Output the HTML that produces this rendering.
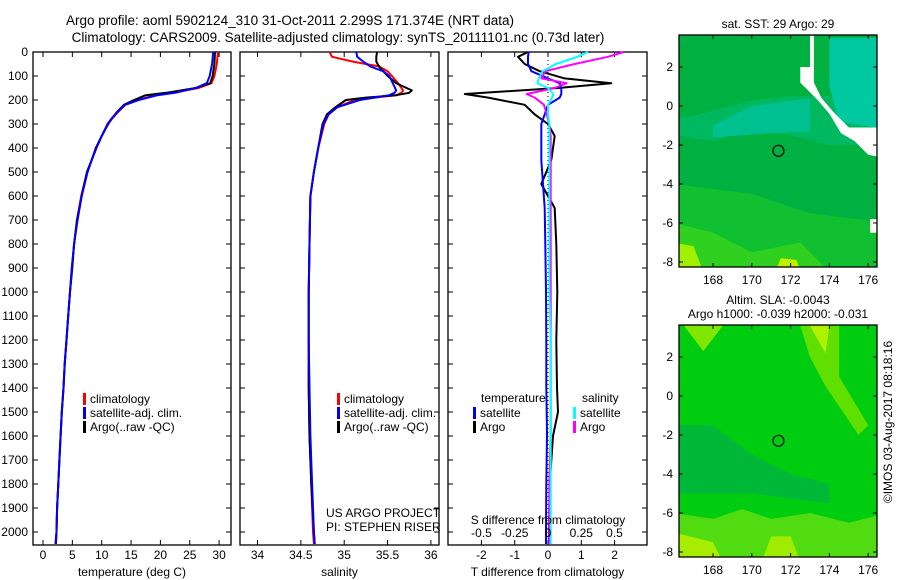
<!DOCTYPE html>
<html><head><meta charset="utf-8">
<style>
body{margin:0;background:#fff;width:900px;height:580px;overflow:hidden}
svg{display:block;font-family:"Liberation Sans",sans-serif;font-size:12px}
</style></head><body>
<svg id="fig" width="900" height="580" viewBox="0 0 900 580" xmlns="http://www.w3.org/2000/svg">
<text x="290" y="25" text-anchor="middle" font-size="13.5">Argo profile: aoml 5902124_310 31-Oct-2011 2.299S 171.374E (NRT data)</text>
<text x="338" y="42" text-anchor="middle" font-size="13.5">Climatology: CARS2009. Satellite-adjusted climatology: synTS_20111101.nc (0.73d later)</text>
<g id="maps"></g>
<g id="plots"></g>
<text transform="translate(892,422) rotate(-90)" text-anchor="middle" font-size="12">©IMOS 03-Aug-2017 08:18:16</text>
</svg>
<script>
// ---------- DATA ----------
const tDepth   = [0,50,100,130,150,170,180,200,220,250,280,300,350,400,450,500,600,700,800,900,1000,1100,1200,1300,1400,1500,1600,1700,1800,1900,2000,2050];
const tArgo    = [29.3,29.2,28.9,28.5,26,21,17.5,15.5,13.8,12.6,11.6,11,10,9,8.3,7.5,6.6,5.8,5.3,5,4.6,4.3,4,3.7,3.5,3.2,3,2.8,2.6,2.4,2.3,2.2];
const tClim    = [29.8,29.6,29.2,28.7,26.5,22,19,16.2,14,12.8,11.7,11.1,10,9.1,8.3,7.5,6.5,5.8,5.3,4.9,4.6,4.3,4,3.7,3.5,3.2,3,2.8,2.6,2.4,2.3,2.1];
const tSat     = [29.0,28.8,28.4,27.9,26,22.5,19.5,16.3,14,12.7,11.6,11.1,10,9.1,8.3,7.6,6.6,5.9,5.3,4.9,4.6,4.3,4,3.7,3.5,3.2,3,2.8,2.6,2.4,2.3,2.2];
const sDepth   = [0,20,40,60,80,100,130,160,170,180,190,200,230,260,300,400,500,600,800,1000,1200,1400,1600,1800,2000,2050];
const sArgo    = [35.38,35.37,35.37,35.4,35.45,35.5,35.6,35.78,35.75,35.6,35.25,35.02,34.9,34.8,34.75,34.7,34.65,34.61,34.6,34.59,34.59,34.59,34.6,34.62,34.65,34.66];
const sClim    = [34.83,34.86,35.1,35.4,35.5,35.55,35.62,35.68,35.66,35.6,35.35,35.12,34.92,34.82,34.77,34.7,34.65,34.61,34.6,34.59,34.59,34.59,34.6,34.62,34.64,34.65];
const sSat     = [35.14,35.15,35.22,35.3,35.45,35.52,35.56,35.6,35.58,35.52,35.35,35.18,34.92,34.82,34.76,34.7,34.65,34.61,34.6,34.59,34.59,34.6,34.61,34.63,34.65,34.66];
const dDepth   = [0,20,50,80,110,130,150,175,190,220,260,300,350,450,550,650,800,1000,1200,1400,1500,1600,1800,2000,2050];
const dTArgo   = [-0.6,-0.9,-0.7,-0.25,0.5,1.9,0.3,-2.5,-1.8,-0.7,-0.4,0,0.2,0.1,-0.2,0.2,0.25,0.28,0.25,0.27,0.3,0.15,0.05,0.03,0.02];
const dTSat    = [-0.58,-0.6,-0.6,-0.5,0,0.35,0.4,0.4,0.35,0,-0.1,-0.2,-0.2,-0.2,-0.15,-0.1,-0.08,-0.06,-0.05,-0.05,-0.04,-0.03,-0.05,-0.06,-0.06];
const dSSat    = [0.3,0.22,0.06,-0.04,-0.07,-0.08,0,0.04,0.03,0,0,0.01,0.01,0.01,0.01,0.01,0.01,0.01,0.02,0.02,0.02,0.02,0.02,0.02,0.02];
const dSArgo   = [0.57,0.45,0.2,-0.02,-0.05,0.14,0.05,-0.16,-0.1,-0.03,-0.01,0.01,0.02,0.02,0.02,0.02,0.02,0.02,0.02,0.02,0.02,0.02,0.01,0.01,0.01];
const depthTicks = [0,100,200,300,400,500,600,700,800,900,1000,1100,1200,1300,1400,1500,1600,1700,1800,1900,2000];
const tempTicks = [0,5,10,15,20,25,30];
const salTicks = [34,34.5,35,35.5,36];
const tdTicks = [-2,-1,0,1,2];
const sdTicks = [-0.5,-0.25,0,0.25,0.5];
const sdTickLabels = ["-0.5","-0.25","0","0.25","0.5"];
const lonTicks = [168,170,172,174,176];
const latTicks = [2,0,-2,-4,-6,-8];
const argoPos = [171.374,-2.299];

// ---------- HELPERS ----------
const NS="http://www.w3.org/2000/svg";
function mk(tag,attrs,parent){const e=document.createElementNS(NS,tag);for(const k in attrs)e.setAttribute(k,attrs[k]);parent.appendChild(e);return e;}
const plots=document.getElementById('plots');
const top0=52,bot0=545;
const yD=d=>top0+d*0.24;

function panel(name,x0,x1,xs,ticks,labels,xlabel,showY){
  const g=mk('g',{},plots);
  
  
  const fr=mk('rect',{x:x0,y:top0,width:x1-x0,height:bot0-top0,fill:'none',stroke:'#000','stroke-width':1.3},g);
  
  
  depthTicks.forEach(d=>{
    const y=yD(d);
    mk('line',{x1:x0,x2:x0+5,y1:y,y2:y,stroke:'#000'},g);
    mk('line',{x1:x1-5,x2:x1,y1:y,y2:y,stroke:'#000'},g);
    if(showY){const t=mk('text',{x:x0-5,y:y+4,'text-anchor':'end'},g);t.textContent=d;
      
      }
  });
  ticks.forEach((v,i)=>{
    const x=xs(v);
    mk('line',{x1:x,x2:x,y1:bot0,y2:bot0-5,stroke:'#000'},g);
    mk('line',{x1:x,x2:x,y1:top0,y2:top0+5,stroke:'#000'},g);
    const t=mk('text',{x:x,y:bot0+14,'text-anchor':'middle'},g);t.textContent=labels[i];
    
    
  });
  const xl=mk('text',{x:(x0+x1)/2,y:bot0+31,'text-anchor':'middle'},g);xl.textContent=xlabel;
  
  
  return g;
}
function line(g,name,depths,vals,xs,color,w){
  const pts=depths.map((d,i)=>xs(vals[i]).toFixed(1)+','+yD(d).toFixed(1)).join(' ');
  const p=mk('polyline',{points:pts,fill:'none',stroke:color,'stroke-width':w,'stroke-linejoin':'round'},g);
  
  
}
function legend(g,x,y,items){
  items.forEach((it,i)=>{
    mk('rect',{x:x,y:y+i*14-9,width:3,height:12,fill:it[1]},g);
    const t=mk('text',{x:x+7,y:y+i*14+1},g);t.textContent=it[0];
    
    
  });
}

// Panel 1 temperature
const xT=v=>43+v*5.87;
const g1=panel('temperature-panel',33,231,xT,tempTicks,tempTicks.map(String),'temperature (deg C)',true);
line(g1,'temp-climatology-line',tDepth,tClim,xT,'#f00',2);
line(g1,'temp-argo-line',tDepth,tArgo,xT,'#000',2);
line(g1,'temp-satellite-line',tDepth,tSat,xT,'#00f',2);
legend(g1,83,402,[['climatology','#f00'],['satellite-adj. clim.','#00f'],['Argo(..raw -QC)','#000']]);

// Panel 2 salinity
const xS=v=>257.5+(v-34)*86.7;
const g2=panel('salinity-panel',240,439,xS,salTicks,salTicks.map(String),'salinity',false);
line(g2,'sal-climatology-line',sDepth,sClim,xS,'#f00',2);
line(g2,'sal-argo-line',sDepth,sArgo,xS,'#000',2);
line(g2,'sal-satellite-line',sDepth,sSat,xS,'#00f',2);
legend(g2,337,402,[['climatology','#f00'],['satellite-adj. clim.','#00f'],['Argo(..raw -QC)','#000']]);
[['US ARGO PROJECT',517],['PI: STEPHEN RISER',531]].forEach(a=>{const t=mk('text',{x:326,y:a[1]},g2);t.textContent=a[0];
  
  });

// Panel 3 differences
const xTd=v=>548+v*33.3;
const xSd=v=>548+v*133;
const g3=panel('difference-panel',448,647,xTd,tdTicks,tdTicks.map(String),'T difference from climatology',false);
const zl=mk('line',{x1:548,x2:548,y1:top0,y2:bot0,stroke:'#000','stroke-dasharray':'1,3'},g3);


line(g3,'tdiff-argo-line',dDepth,dTArgo,xTd,'#000',2);
line(g3,'tdiff-satellite-line',dDepth,dTSat,xTd,'#00f',2);
line(g3,'sdiff-argo-line',dDepth,dSArgo,xSd,'#f0f',2);
line(g3,'sdiff-satellite-line',dDepth,dSSat,xSd,'#0ff',2);
sdTicks.forEach((v,i)=>{const t=mk('text',{x:xSd(v),y:537,'text-anchor':'middle'},g3);t.textContent=sdTickLabels[i];
  
  });
const st=mk('text',{x:548,y:524,'text-anchor':'middle'},g3);st.textContent='S difference from climatology';


let tt=mk('text',{x:481,y:402},g3);tt.textContent='temperature';


tt=mk('text',{x:582,y:402},g3);tt.textContent='salinity';


legend(g3,473,416,[['satellite','#00f'],['Argo','#000']]);
legend(g3,573,416,[['satellite','#0ff'],['Argo','#f0f']]);

// ---------- MAPS ----------
const maps=document.getElementById('maps');
function map(name,top,bottom,title,fills){
  const g=mk('g',{},maps);
  
  
  const x0=679,x1=877;
  const lx=lon=>713+(lon-168)*19.4;
  const ly=lat=>top+32+(2-lat)*19.5;
  const cid=name+'-clip';
  const cp=mk('clipPath',{id:cid},g);mk('rect',{x:x0,y:top,width:x1-x0,height:bottom-top},cp);
  const inner=mk('g',{'clip-path':'url(#'+cid+')'},g);
  fills(inner,lx,ly,x0,x1,top,bottom);
  mk('rect',{x:x0,y:top,width:x1-x0,height:bottom-top,fill:'none',stroke:'#000','stroke-width':1.3},g);
  latTicks.forEach(l=>{const y=ly(l);mk('line',{x1:x0,x2:x0+4,y1:y,y2:y,stroke:'#000'},g);mk('line',{x1:x1-4,x2:x1,y1:y,y2:y,stroke:'#000'},g);
    const t=mk('text',{x:x0-6,y:y+4,'text-anchor':'end'},g);t.textContent=l;
    
    });
  lonTicks.forEach(l=>{const x=lx(l);mk('line',{x1:x,x2:x,y1:top,y2:top+4,stroke:'#000'},g);mk('line',{x1:x,x2:x,y1:bottom,y2:bottom-4,stroke:'#000'},g);
    const t=mk('text',{x:x,y:bottom+17,'text-anchor':'middle'},g);t.textContent=l;
    
    });
  const c=mk('circle',{cx:lx(argoPos[0]),cy:ly(argoPos[1]),r:5.5,fill:'none',stroke:'#000','stroke-width':1.2},g);
  
  
  title.forEach((s,i)=>{const t=mk('text',{x:778,y:top-(title.length-1-i)*14-7,'text-anchor':'middle'},g);t.textContent=s;
    
    });
}
map('sst-map',35,267,['sat. SST: 29 Argo: 29'],(g,lx,ly,x0,x1,t,b)=>{
  mk('rect',{x:x0,y:t,width:x1-x0,height:b-t,fill:'#00b040'},g);
  mk('polygon',{points:`${lx(166)},${ly(-4)} ${lx(170)},${ly(-4.5)} ${lx(173)},${ly(-5.5)} ${lx(177)},${ly(-6)} ${lx(177)},${ly(-9)} ${lx(166)},${ly(-9)}`,fill:'#10c030'},g);
  mk('polygon',{points:`${lx(166)},${ly(-1.5)} ${lx(168)},${ly(-1.8)} ${lx(170)},${ly(-1.2)} ${lx(172)},${ly(-1.5)} ${lx(174)},${ly(-2)} ${lx(177)},${ly(-2)} ${lx(177)},${ly(0.5)} ${lx(172)},${ly(0.5)} ${lx(170)},${ly(0.3)} ${lx(167)},${ly(-0.5)} ${lx(166)},${ly(-0.6)}`,fill:'#00b860'},g);
  mk('polygon',{points:`${lx(168)},${ly(-1.6)} ${lx(171)},${ly(-1.4)} ${lx(173)},${ly(-1.3)} ${lx(173)},${ly(0.4)} ${lx(170)},${ly(0)} ${lx(168)},${ly(-1)}`,fill:'#00c090'},g);
  mk('polygon',{points:`${lx(174)},${ly(3.5)} ${lx(177)},${ly(3.5)} ${lx(177)},${ly(-1.2)} ${lx(174.5)},${ly(-0.8)} ${lx(174)},${ly(1)}`,fill:'#00c8a0'},g);
  mk('polygon',{points:`${lx(166)},${ly(-8.5)} ${lx(166)},${ly(-6)} ${lx(168)},${ly(-6.5)} ${lx(170)},${ly(-7.5)} ${lx(172.5)},${ly(-7)} ${lx(174)},${ly(-8.5)}`,fill:'#30d020'},g);
  mk('polygon',{points:`${lx(166)},${ly(-8.5)} ${lx(166)},${ly(-7)} ${lx(167)},${ly(-7.2)} ${lx(167.5)},${ly(-8.5)}`,fill:'#a0f000'},g);
  mk('polygon',{points:`${lx(171.2)},${ly(-8.5)} ${lx(171.5)},${ly(-7.8)} ${lx(172.3)},${ly(-7.9)} ${lx(172.5)},${ly(-8.5)}`,fill:'#c0f000'},g);
  mk('polygon',{points:`${lx(173)},${ly(3.6)} ${lx(173.2)},${ly(3.6)} ${lx(173.2)},${ly(1.2)} ${lx(173.6)},${ly(0.4)} ${lx(174.2)},${ly(-0.3)} ${lx(175)},${ly(-1.1)} ${lx(176.5)},${ly(-1.1)} ${lx(176.5)},${ly(-2.6)} ${lx(176)},${ly(-2.5)} ${lx(175.3)},${ly(-1.8)} ${lx(174.6)},${ly(-1.4)} ${lx(174)},${ly(-0.4)} ${lx(173.4)},${ly(0.3)} ${lx(172.5)},${ly(1.2)} ${lx(172.5)},${ly(2)} ${lx(173)},${ly(2)}`,fill:'#fff'},g);
  mk('rect',{x:lx(176.1),y:ly(-5.8),width:8,height:ly(-6.5)-ly(-5.8),fill:'#fff'},g);
});
map('sla-map',325,557,['Altim. SLA: -0.0043','Argo h1000: -0.039 h2000: -0.031'],(g,lx,ly,x0,x1,t,b)=>{
  mk('rect',{x:x0,y:t,width:x1-x0,height:b-t,fill:'#00cc10'},g);
  mk('polygon',{points:`${lx(166)},${ly(-1.5)} ${lx(168)},${ly(-1.5)} ${lx(170)},${ly(-3)} ${lx(172)},${ly(-4)} ${lx(174)},${ly(-4.5)} ${lx(174)},${ly(-5.5)} ${lx(170)},${ly(-5)} ${lx(168)},${ly(-5)} ${lx(166)},${ly(-5)}`,fill:'#00b838'},g);
  mk('polygon',{points:`${lx(166)},${ly(-8.5)} ${lx(166)},${ly(-6)} ${lx(168)},${ly(-6.3)} ${lx(169.5)},${ly(-5.8)} ${lx(171)},${ly(-6.3)} ${lx(173)},${ly(-6)} ${lx(175)},${ly(-6.5)} ${lx(177)},${ly(-6)} ${lx(177)},${ly(-8.5)}`,fill:'#50dc10'},g);
  mk('polygon',{points:`${lx(166)},${ly(-8.5)} ${lx(166)},${ly(-7)} ${lx(168)},${ly(-7.5)} ${lx(168.5)},${ly(-8.5)}`,fill:'#a8ec00'},g);
  mk('polygon',{points:`${lx(170.5)},${ly(-8.5)} ${lx(171)},${ly(-7.2)} ${lx(172)},${ly(-7.2)} ${lx(172.5)},${ly(-8.5)}`,fill:'#a0ec00'},g);
  mk('polygon',{points:`${lx(172.5)},${ly(3.6)} ${lx(174.5)},${ly(3.6)} ${lx(174.5)},${ly(1)} ${lx(176)},${ly(-1.5)} ${lx(175.5)},${ly(-2)} ${lx(173.8)},${ly(0.5)} ${lx(173)},${ly(2)}`,fill:'#60e000'},g);
  mk('polygon',{points:`${lx(173)},${ly(3.6)} ${lx(174)},${ly(3.6)} ${lx(173.8)},${ly(2.2)}`,fill:'#b0f000'},g);
  mk('polygon',{points:`${lx(166.5)},${ly(3.6)} ${lx(168.5)},${ly(3.6)} ${lx(167.5)},${ly(2.3)}`,fill:'#80e800'},g);
});
</script>
</body></html>
